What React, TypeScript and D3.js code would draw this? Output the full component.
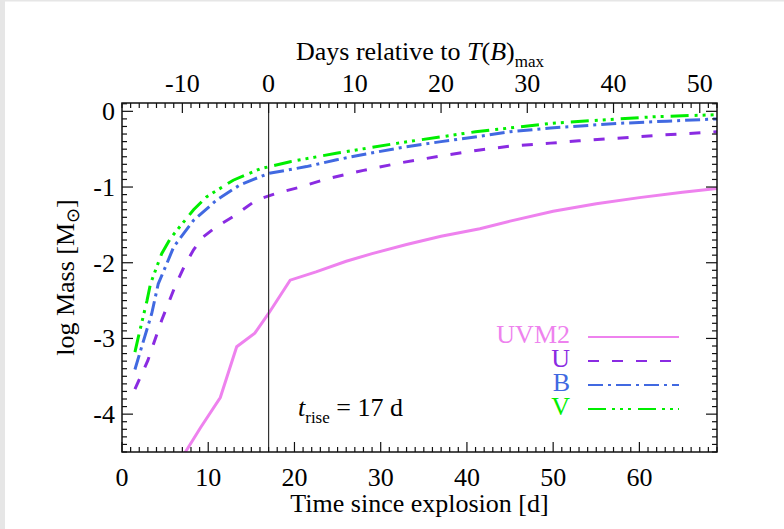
import React from "react";
import * as d3 from "d3";

const uvm2T = [7.3, 9.1, 11.4, 13.3, 15.4, 17.0, 19.5, 22.5, 26, 29, 33, 37, 41.5, 45, 50, 55, 60, 65, 69];
const uvm2M = [-4.51, -4.18, -3.78, -3.11, -2.93, -2.67, -2.23, -2.12, -1.98, -1.88, -1.76, -1.65, -1.55, -1.45, -1.32, -1.22, -1.14, -1.07, -1.02];

const uT = [1.5, 3.0, 4.6, 6.2, 7.3, 8.3, 9.4, 11, 12.9, 15.6, 18, 20.7, 23.8, 28, 32.3, 37, 41.5, 45, 49.7, 53, 57.4, 63, 69];
const uM = [-3.67, -3.29, -2.76, -2.3, -2.03, -1.83, -1.66, -1.52, -1.39, -1.17, -1.08, -1.0, -0.89, -0.78, -0.68, -0.59, -0.51, -0.46, -0.42, -0.39, -0.355, -0.31, -0.27];

const bT = [1.5, 2.1, 3.45, 4.2, 5.2, 6.0, 8.3, 11, 13.7, 17, 21.4, 24.9, 28, 32.3, 37, 41.5, 45, 49.7, 57.4, 63.2, 69];
const bM = [-3.41, -3.18, -2.67, -2.28, -2.01, -1.79, -1.44, -1.17, -0.97, -0.82, -0.73, -0.64, -0.57, -0.48, -0.4, -0.33, -0.27, -0.22, -0.16, -0.13, -0.1];

const vT = [1.5, 1.9, 2.9, 3.3, 4.6, 5.6, 8.3, 9.8, 12.9, 16, 19.5, 25, 32, 41, 49.7, 56.2, 62, 69];
const vM = [-3.18, -2.98, -2.5, -2.28, -1.88, -1.68, -1.3, -1.13, -0.91, -0.76, -0.665, -0.55, -0.42, -0.27, -0.16, -0.11, -0.07, -0.045];

const seriesNames = ["UVM2", "U", "B", "V"];
const seriesColors = ["#ee82ee", "#8a2be2", "#4169e1", "#00ee00"];
const seriesDash = ["", "11,13", "15,5,3,5", "18,6,3,5,3,5,3,7"];

const bottomTicks = [0, 10, 20, 30, 40, 50, 60];
const topTicks = [-10, 0, 10, 20, 30, 40, 50];
const yTicks = [0, -1, -2, -3, -4];
const tRise = 17;

const FONT = "Liberation Serif";

export default function App() {
  const L = 122, R = 717, T = 103, B = 452;
  const x = d3.scaleLinear().domain([0, 69]).range([L, R]);
  const xTop = d3.scaleLinear().domain([-tRise, 69 - tRise]).range([L, R]);
  const y = d3.scaleLinear().domain([-4.5, 0.11]).range([B, T]);

  const series = [
    { t: uvm2T, m: uvm2M },
    { t: uT, m: uM },
    { t: bT, m: bM },
    { t: vT, m: vM },
  ];
  const line = d3
    .line<[number, number]>()
    .x((d) => x(d[0]))
    .y((d) => y(d[1]));

  const bMinor = d3.range(0, 70, 1);
  const tMinor = d3.range(-17, 53, 1);
  const yMinor = d3.range(-45, 2, 1).map((v) => v / 10);

  const stroke = "#111";
  return (
    <svg
      width={784}
      height={529}
      style={{ position: "absolute", left: 0, top: 0, background: "#fff" }}
      fontFamily={FONT}
    >
      <rect x={0} y={0} width={784} height={529} fill="#fff" />
      <rect x={0} y={0} width={5} height={529} fill="#e6e6e6" />
      <rect x={0} y={0} width={784} height={1.5} fill="#e6e6e6" />
      <defs>
        <clipPath id="plotclip">
          <rect x={L} y={T} width={R - L} height={B - T} />
        </clipPath>
      </defs>

      {/* curves */}
      <g clipPath="url(#plotclip)">
        {series.map((s, i) => (
          <path
            key={i}
            d={line(s.t.map((t, j) => [t, s.m[j]] as [number, number])) || ""}
            fill="none"
            stroke={seriesColors[i]}
            strokeWidth={3}
            strokeDasharray={seriesDash[i] || undefined}
          />
        ))}
        <line x1={x(tRise)} x2={x(tRise)} y1={T} y2={B} stroke="#333" strokeWidth={1.2} />
      </g>

      {/* frame */}
      <rect x={L} y={T} width={R - L} height={B - T} fill="none" stroke={stroke} strokeWidth={1.5} />

      {/* bottom ticks */}
      {bMinor.map((v) => {
        const major = v % 10 === 0;
        const len = major ? 10 : 5;
        return (
          <line key={"b" + v} x1={x(v)} x2={x(v)} y1={B} y2={B - len} stroke={stroke} strokeWidth={1.2} />
        );
      })}
      {bottomTicks.map((v) => (
        <text key={"bl" + v} x={x(v)} y={486} fontSize={26} textAnchor="middle" fill="#000">
          {v}
        </text>
      ))}
      {/* top ticks */}
      {tMinor.map((v) => {
        const major = v % 10 === 0;
        const len = major ? 10 : 5;
        return (
          <line key={"t" + v} x1={xTop(v)} x2={xTop(v)} y1={T} y2={T + len} stroke={stroke} strokeWidth={1.2} />
        );
      })}
      {topTicks.map((v) => (
        <text key={"tl" + v} x={xTop(v)} y={92} fontSize={26} textAnchor="middle" fill="#000">
          {v}
        </text>
      ))}
      {/* y ticks */}
      {yMinor.map((v) => {
        const major = Math.abs(v - Math.round(v)) < 1e-6;
        const len = major ? 11 : 5;
        return (
          <g key={"y" + v}>
            <line x1={L} x2={L + len} y1={y(v)} y2={y(v)} stroke={stroke} strokeWidth={1.2} />
            <line x1={R} x2={R - len} y1={y(v)} y2={y(v)} stroke={stroke} strokeWidth={1.2} />
          </g>
        );
      })}
      {yTicks.map((v) => (
        <text key={"yl" + v} x={115} y={y(v) + 9} fontSize={26} textAnchor="end" fill="#000">
          {v}
        </text>
      ))}

      {/* axis titles */}
      <text x={(L + R) / 2} y={512} fontSize={26} textAnchor="middle" fill="#000">
        Time since explosion [d]
      </text>
      <text x={420} y={60} fontSize={26} textAnchor="middle" fill="#000">
        Days relative to <tspan fontStyle="italic">T</tspan>(<tspan fontStyle="italic">B</tspan>)
        <tspan fontSize={17} dy={7}>max</tspan>
      </text>
      <text
        transform={`translate(74, ${(T + B) / 2}) rotate(-90)`}
        fontSize={26}
        textAnchor="middle"
        fill="#000"
      >
        log Mass [M<tspan fontSize={18} dy={5}>⊙</tspan>
        <tspan dy={-5}>]</tspan>
      </text>

      {/* t_rise label */}
      <text x={298} y={416} fontSize={26} fill="#000">
        <tspan fontStyle="italic">t</tspan>
        <tspan fontSize={17} dy={7}>rise</tspan>
        <tspan dy={-7}> = 17 d</tspan>
      </text>

      {/* legend */}
      {seriesNames.map((n, i) => (
        <g key={"lg" + n}>
          <text x={570} y={343 + i * 24} fontSize={26} textAnchor="end" fill={seriesColors[i]}>
            {n}
          </text>
          <line
            x1={588}
            x2={679}
            y1={337 + i * 24}
            y2={337 + i * 24}
            stroke={seriesColors[i]}
            strokeWidth={2}
            strokeDasharray={seriesDash[i] || undefined}
          />
        </g>
      ))}
    </svg>
  );
}
